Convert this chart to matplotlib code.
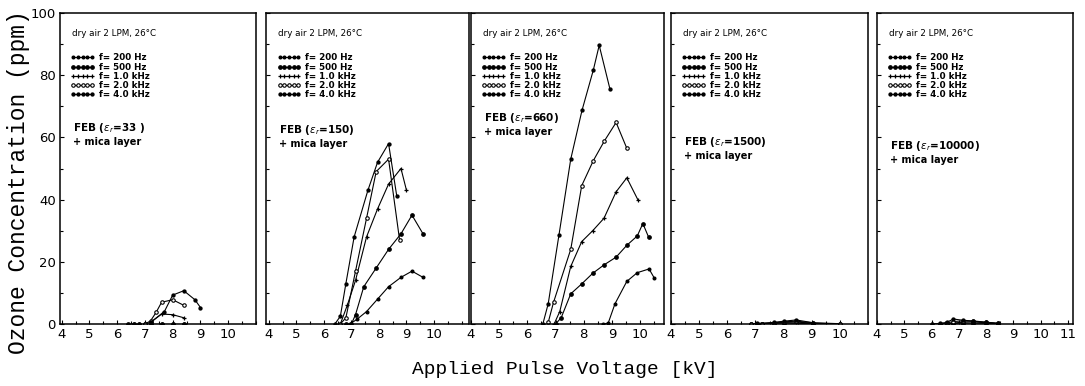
import matplotlib
matplotlib.use("Agg")
import matplotlib.pyplot as plt
from matplotlib.ticker import MultipleLocator

# ---------------- data ----------------
freq_labels = ["f= 200 Hz", "f= 500 Hz", "f= 1.0 kHz", "f= 2.0 kHz", "f= 4.0 kHz"]
eps_labels = ["33 ", "150", "660", "1500", "10000"]

# each panel: one list per frequency (200 Hz, 500 Hz, 1.0 kHz, 2.0 kHz, 4.0 kHz)
p1_volt = [[6.6, 6.8, 7.0, 7.2, 7.6, 8.0, 8.4],
           [6.4, 6.6, 6.8, 7.0, 7.2, 7.6, 8.0, 8.4],
           [7.0, 7.2, 7.6, 8.0, 8.4],
           [7.0, 7.2, 7.4, 7.6, 8.0, 8.4],
           [7.2, 7.7, 8.0, 8.4, 8.8, 9.0]]
p1_ozone = [[0, 0, 0, 0, 0, 0, 0],
            [0, 0, 0, 0, 0, 0, 0, 0],
            [0, 0.5, 3.2, 3.0, 2.0],
            [0, 1.0, 3.7, 7.0, 7.8, 6.0],
            [0.5, 4.0, 9.3, 10.7, 7.8, 5.3]]

p2_volt = [[6.95, 7.2, 7.55, 7.95, 8.35, 8.8, 9.2, 9.6],
           [6.8, 7.0, 7.15, 7.45, 7.9, 8.35, 8.8, 9.2, 9.6],
           [6.6, 6.85, 7.15, 7.55, 7.95, 8.35, 8.8, 9.0],
           [6.6, 6.8, 7.15, 7.55, 7.9, 8.35, 8.75],
           [6.4, 6.6, 6.8, 7.1, 7.6, 7.95, 8.35, 8.65]]
p2_ozone = [[0, 1.5, 4, 8, 12, 15, 17, 15],
            [0, 0, 3, 12, 18, 24, 29, 35, 29],
            [0, 6, 14, 28, 37, 45, 50, 43],
            [0, 2, 17, 34, 49, 53, 27],
            [0, 2.5, 13, 28, 43, 52, 58, 41]]

p3_volt = [[8.7, 8.87, 9.11, 9.53, 9.9, 10.32, 10.51],
           [7.0, 7.2, 7.54, 7.93, 8.32, 8.72, 9.15, 9.53, 9.9, 10.1, 10.3],
           [6.95, 7.15, 7.54, 7.93, 8.32, 8.72, 9.15, 9.53, 9.92],
           [6.74, 6.93, 7.54, 7.93, 8.34, 8.73, 9.15, 9.53],
           [6.55, 6.74, 7.12, 7.54, 7.94, 8.34, 8.55, 8.93]]
p3_ozone = [[0, 0.3, 6.5, 13.7, 16.5, 17.7, 14.7],
            [0, 2.0, 9.7, 12.9, 16.3, 19.0, 21.5, 25.3, 28.3, 32.3, 28.0],
            [0, 4.0, 18.5, 26.5, 30.0, 34.0, 42.5, 47.0, 40.0],
            [0.5, 7.0, 24.0, 44.5, 52.5, 58.8, 64.8, 56.5],
            [0, 6.5, 28.5, 53.0, 68.7, 81.6, 89.6, 75.6]]

p4_volt = [[6.85, 7.05, 7.25, 7.65, 8.0, 9.05],
           [6.85, 7.05, 7.25, 7.65, 8.0, 9.05, 10.0],
           [6.85, 7.25, 7.65, 8.0, 8.45, 9.05, 10.0],
           [6.85, 7.25, 7.65, 8.0, 8.45, 9.05, 10.0],
           [7.05, 7.65, 8.0, 8.45, 9.05]]
p4_ozone = [[0, 0, 0, 0, 0, 0],
            [0, 0, 0, 0.2, 0.3, 0.1, 0],
            [0, 0, 0.3, 0.5, 0.6, 0.3, 0],
            [0, 0.1, 0.4, 0.7, 0.9, 0.4, 0.1],
            [0.2, 0.5, 0.9, 1.3, 0.4]]

p5_volt = [[6.0, 6.3, 6.55, 6.8, 7.15, 7.5, 8.0, 8.45],
           [6.3, 6.55, 6.8, 7.15, 7.5, 8.0, 8.45],
           [6.55, 6.8, 7.15, 7.5, 8.0, 8.45],
           [6.3, 6.55, 6.8, 7.15, 7.5, 8.0, 8.45],
           [6.0, 6.3, 6.55, 6.8, 7.15, 7.5, 8.0, 8.45]]
p5_ozone = [[0, 0, 0, 0, 0, 0, 0, 0],
            [0, 0, 0.2, 0.3, 0.3, 0.2, 0],
            [0, 0.3, 0.6, 0.7, 0.4, 0.1],
            [0, 0.3, 0.8, 1.0, 0.9, 0.5, 0.2],
            [0, 0.2, 0.5, 1.6, 1.2, 1.0, 0.6, 0.2]]

x_tick_max = [10, 10, 10, 10, 11]

# ---------------- layout ----------------
W, H = 1085, 386
panel_px = [(60, 256), (266, 469), (471, 664), (671, 868), (877, 1073)]
xlims = [(3.94, 11.0), (3.9, 11.27), (4.0, 10.85), (4.05, 11.0), (4.0, 11.18)]
feb_y_px = [128, 130, 118, 142, 146]
top_px, bot_px = 13, 324

markers = [dict(marker='o', ms=1.9, mfc='black'),
           dict(marker='o', ms=2.4, mfc='black'),
           dict(marker='+', ms=3.2, mew=0.9),
           dict(marker='o', ms=2.5, mfc='white', mew=0.8),
           dict(marker='o', ms=2.1, mfc='black')]

volts = [p1_volt, p2_volt, p3_volt, p4_volt, p5_volt]
ozones = [p1_ozone, p2_ozone, p3_ozone, p4_ozone, p5_ozone]

fig = plt.figure(figsize=(W / 100, H / 100), dpi=100)

for i in range(5):
    l, r = panel_px[i]
    ax = fig.add_axes([l / W, 1 - bot_px / H, (r - l) / W, (bot_px - top_px) / H])
    for j in range(5):
        ax.plot(volts[i][j], ozones[i][j], color='black', lw=0.8,
                mec='black', label=freq_labels[j], **markers[j])
    ax.set_xlim(*xlims[i])
    ax.set_ylim(0, 100)
    ax.set_xticks(range(4, x_tick_max[i] + 1))
    ax.xaxis.set_minor_locator(MultipleLocator(0.5))
    ax.yaxis.set_major_locator(MultipleLocator(20))
    ax.yaxis.set_minor_locator(MultipleLocator(10))
    ax.tick_params(which='both', direction='in', top=False, right=False,
                   labelsize=9.5, width=0.8, pad=3)
    ax.tick_params(which='major', length=3)
    ax.tick_params(which='minor', length=2)
    if i > 0:
        ax.tick_params(axis='y', labelleft=False)
    for s in ax.spines.values():
        s.set_linewidth(1.1)

    # annotations
    ax.text(0.06, 0.935, "dry air 2 LPM, 26°C", transform=ax.transAxes,
            fontsize=6.3, va='center', ha='left')
    ax.legend(loc='upper left', bbox_to_anchor=(0.055, 0.87),
              frameon=False, numpoints=5, handlelength=2.7,
              handletextpad=0.5, labelspacing=0.03, borderpad=0,
              borderaxespad=0, prop={'weight': 'bold', 'size': 6.3})
    fy = (bot_px - feb_y_px[i]) / (bot_px - top_px)
    ax.text(0.065, fy, r"FEB ($\varepsilon_r$=" + eps_labels[i] + ")",
            transform=ax.transAxes, fontsize=7.5, fontweight='bold',
            va='center', ha='left')
    ax.text(0.065, fy - 14 / (bot_px - top_px), "+ mica layer",
            transform=ax.transAxes, fontsize=7, fontweight='bold',
            va='center', ha='left')

fig.text(565 / W, 1 - 369 / H, "Applied Pulse Voltage [kV]",
         family='Liberation Mono', fontsize=14, ha='center', va='center')
fig.text(19 / W, 1 - 182 / H, "Ozone Concentration (ppm)",
         family='Liberation Mono', fontsize=16.5, ha='center', va='center',
         rotation=90)

fig.savefig("out.png", dpi=100)
